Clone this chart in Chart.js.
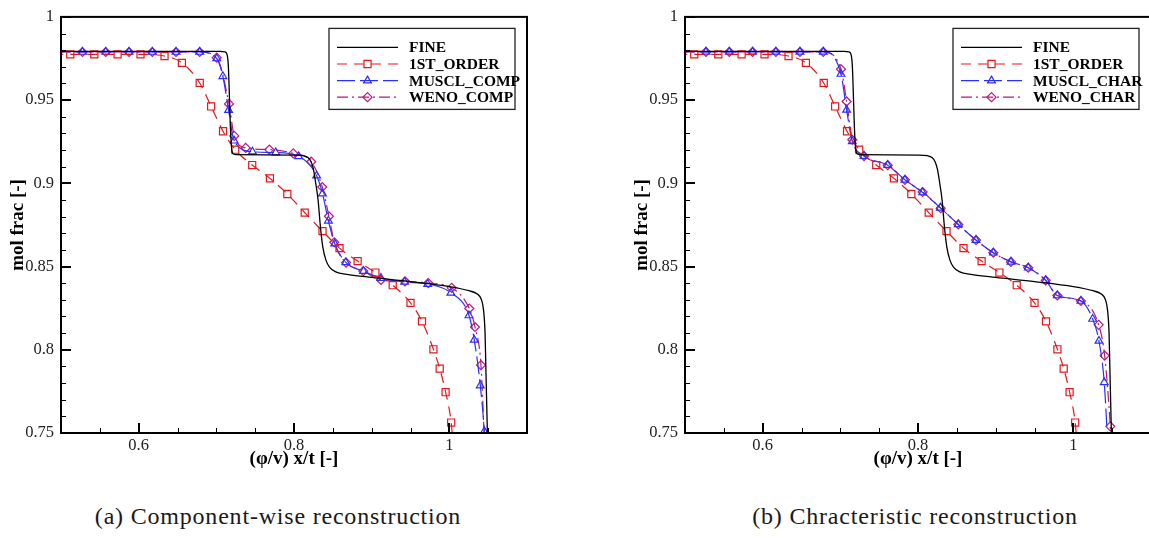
<!DOCTYPE html>
<html>
<head>
<meta charset="utf-8">
<script src="https://cdn.jsdelivr.net/npm/chart.js@4.4.1/dist/chart.umd.min.js"></script>
<style>
html, body { margin: 0; padding: 0; background: #fff; overflow: hidden; width: 1149px; height: 538px; }
.panel { position: absolute; top: 0; width: 575px; height: 490px; }
.cap { position: absolute; top: 503px; font-family: 'Liberation Serif', serif; font-size: 24px; letter-spacing: 0.8px;
       color: #1a1a1a; white-space: nowrap; transform: translateX(-50%); }
</style>
</head>
<body>
<div class="panel" style="left:0"><canvas id="chartA"></canvas></div>
<div class="panel" style="left:624px"><canvas id="chartB"></canvas></div>
<div class="cap" style="left:278px">(a) Component-wise reconstruction</div>
<div class="cap" style="left:915px">(b) Chracteristic reconstruction</div>
<script>
// axis ticks
const xTicks = [0.6, 0.8, 1];
const yTicks = [0.75, 0.8, 0.85, 0.9, 0.95, 1];

// reference solution (same in both panels)
const finePts = [
  [0.50, 0.9793], [0.705, 0.9793], [0.711, 0.979], [0.714, 0.977], [0.7155, 0.97], [0.717, 0.95],
  [0.718, 0.935], [0.7195, 0.922], [0.7215, 0.9178], [0.726, 0.9173], [0.80, 0.917], [0.812, 0.9166],
  [0.818, 0.9155], [0.822, 0.913], [0.825, 0.9085], [0.828, 0.90], [0.831, 0.89], [0.834, 0.874],
  [0.837, 0.862], [0.841, 0.854], [0.846, 0.8495], [0.853, 0.847], [0.87, 0.8452], [0.90, 0.8435],
  [0.95, 0.841], [1.00, 0.838], [1.025, 0.8355], [1.036, 0.8335], [1.041, 0.8305], [1.044, 0.824],
  [1.046, 0.81], [1.047, 0.79], [1.048, 0.77], [1.049, 0.75], [1.0495, 0.74]
];

// first order scheme (same in both panels)
const firstOrderPts = [
  [0.49, 0.9775], [0.5119, 0.9775], [0.5429, 0.9775], [0.5729, 0.9775], [0.6024, 0.9775], [0.6333, 0.9765],
  [0.6557, 0.9724], [0.6786, 0.9603], [0.6933, 0.9462], [0.7086, 0.9313], [0.7243, 0.9202], [0.7462, 0.911],
  [0.769, 0.903], [0.7914, 0.8936], [0.8138, 0.8824], [0.8367, 0.8713], [0.8586, 0.8611], [0.8819, 0.8533],
  [0.9048, 0.8464], [0.9271, 0.8388], [0.95, 0.8282], [0.9648, 0.8171], [0.9795, 0.8003], [0.9876, 0.7887],
  [0.9952, 0.7745], [1.0024, 0.7563], [1.005, 0.742]
];

// component-wise
const musclCompPts = [
  [0.49, 0.9789], [0.5276, 0.9789], [0.5576, 0.9789], [0.5876, 0.9789], [0.6176, 0.9789], [0.6481, 0.9789],
  [0.6786, 0.9789], [0.7005, 0.975], [0.7084, 0.9643], [0.7158, 0.944], [0.7229, 0.9256], [0.7465, 0.919],
  [0.7765, 0.9185], [0.806, 0.9162], [0.8291, 0.9046], [0.8367, 0.8938], [0.8443, 0.8775], [0.8524, 0.8638],
  [0.8667, 0.8525], [0.8895, 0.8472], [0.9119, 0.8431], [0.9424, 0.8408], [0.9722, 0.8395], [1.002, 0.8342],
  [1.0253, 0.8206], [1.0321, 0.8059], [1.0399, 0.7785], [1.045, 0.751], [1.046, 0.742]
];
const wenoCompPts = [
  [0.49, 0.9789], [0.5276, 0.9789], [0.5576, 0.9789], [0.5876, 0.9789], [0.6176, 0.9789], [0.6481, 0.9789],
  [0.6786, 0.9789], [0.7005, 0.9755], [0.7163, 0.9477], [0.7231, 0.9285], [0.7378, 0.9213], [0.7682, 0.9203],
  [0.7991, 0.918], [0.8222, 0.913], [0.8364, 0.8978], [0.845, 0.8802], [0.8519, 0.8646], [0.867, 0.8524],
  [0.8892, 0.8473], [0.912, 0.842], [0.9429, 0.8411], [0.9729, 0.8401], [1.003, 0.8372], [1.0257, 0.8248],
  [1.033, 0.8137], [1.0407, 0.7908], [1.0455, 0.742]
];

// characteristic
const musclCharPts = [
  [0.49, 0.979], [0.527, 0.979], [0.557, 0.979], [0.587, 0.979], [0.617, 0.979], [0.648, 0.979],
  [0.678, 0.979], [0.7008, 0.9657], [0.7081, 0.9441], [0.7154, 0.9252], [0.7305, 0.9164], [0.761, 0.9109],
  [0.7832, 0.9021], [0.806, 0.8945], [0.8288, 0.8853], [0.8519, 0.8753], [0.8747, 0.8659], [0.897, 0.8583],
  [0.9197, 0.8528], [0.942, 0.8493], [0.9644, 0.8417], [0.9794, 0.8326], [1.0098, 0.8293], [1.0249, 0.8185],
  [1.033, 0.8053], [1.0398, 0.7804], [1.0445, 0.742]
];
const wenoCharPts = [
  [0.49, 0.979], [0.527, 0.979], [0.557, 0.979], [0.587, 0.979], [0.617, 0.979], [0.648, 0.979],
  [0.678, 0.979], [0.7008, 0.9686], [0.7081, 0.9492], [0.7154, 0.9262], [0.7305, 0.9164], [0.761, 0.9109],
  [0.7832, 0.9021], [0.806, 0.8948], [0.8292, 0.8851], [0.8519, 0.8753], [0.8747, 0.8659], [0.897, 0.8583],
  [0.9197, 0.8528], [0.942, 0.8493], [0.9644, 0.8417], [0.9794, 0.8326], [1.0098, 0.8293], [1.0326, 0.815],
  [1.0403, 0.7965], [1.0476, 0.754], [1.049, 0.742]
];

const RED = 'rgb(228, 24, 28)';
const BLUE = 'rgb(45, 45, 255)';
const PURPLE = 'rgb(185, 25, 120)';
const SERIF = "'Liberation Serif', 'Times New Roman', serif";

function series(label, pts, color, dash, style, radius) {
  return {
    label: label,
    data: pts.map(p => ({ x: p[0], y: p[1] })),
    borderColor: color,
    borderWidth: 1.2,
    borderDash: dash,
    pointStyle: style,
    pointRadius: radius,
    pointHoverRadius: radius,
    pointBorderColor: color,
    pointBackgroundColor: 'rgba(0,0,0,0)',
    pointBorderWidth: 1.2,
    showLine: true,
    cubicInterpolationMode: 'monotone',
    fill: false
  };
}

// inward ticks, frame box and boxed legend
const framePlugin = {
  id: 'frame',
  afterDraw(chart) {
    const { ctx, chartArea: a, scales: { x, y } } = chart;
    ctx.save();
    ctx.strokeStyle = '#000';
    ctx.setLineDash([]);
    ctx.lineWidth = 1;
    ctx.beginPath();
    for (let i = 11; i <= 21; i++) {
      if (i % 4 === 0) continue;
      const px = Math.round(x.getPixelForValue(i * 0.05)) + 0.5;
      ctx.moveTo(px, a.bottom); ctx.lineTo(px, a.bottom - 5);
    }
    for (let i = 76; i <= 99; i++) {
      if (i % 5 === 0) continue;
      const py = Math.round(y.getPixelForValue(i / 100)) + 0.5;
      ctx.moveTo(a.left, py); ctx.lineTo(a.left + 5, py);
    }
    ctx.stroke();
    ctx.lineWidth = 2;
    ctx.beginPath();
    xTicks.forEach(v => {
      const px = Math.round(x.getPixelForValue(v));
      ctx.moveTo(px, a.bottom); ctx.lineTo(px, a.bottom - 10);
    });
    yTicks.forEach(v => {
      const py = Math.round(y.getPixelForValue(v));
      ctx.moveTo(a.left, py); ctx.lineTo(a.left + 10, py);
    });
    ctx.stroke();
    ctx.strokeRect(a.left, a.top, a.right - a.left, a.bottom - a.top);

    // legend
    const bx = a.left + 268, by = a.top + 11.5, bw = 186, bh = 81;
    ctx.fillStyle = '#fff';
    ctx.fillRect(bx, by, bw, bh);
    ctx.lineWidth = 1.3;
    ctx.strokeStyle = '#222';
    ctx.strokeRect(bx, by, bw, bh);
    ctx.font = 'bold 15.5px ' + SERIF;
    ctx.textBaseline = 'middle';
    chart.data.datasets.forEach((ds, i) => {
      const ry = by + 19 + i * 16.6;
      ctx.strokeStyle = ds.borderColor;
      ctx.lineWidth = ds.borderWidth;
      ctx.setLineDash(ds.borderDash || []);
      ctx.beginPath();
      ctx.moveTo(bx + 8, ry); ctx.lineTo(bx + 69, ry);
      ctx.stroke();
      ctx.setLineDash([]);
      if (ds.pointRadius > 0) {
        ctx.fillStyle = 'rgba(0,0,0,0)';
        Chart.helpers.drawPoint(ctx, { pointStyle: ds.pointStyle, radius: ds.pointRadius, borderWidth: 1.2, rotation: 0 }, bx + 38.5, ry);
      }
      ctx.fillStyle = '#000';
      ctx.fillText(ds.label, bx + 80, ry + 1);
    });
    ctx.restore();
  }
};

function makeChart(id, names, musclPts, wenoPts) {
  new Chart(document.getElementById(id), {
    type: 'scatter',
    data: {
      datasets: [
        Object.assign(series('FINE', finePts, '#000', [], 'circle', 0), { borderWidth: 1.3 }),
        series('1ST_ORDER', firstOrderPts, RED, [10, 7], 'rect', 5),
        series(names[0], musclPts, BLUE, [18, 5], 'triangle', 4.5),
        series(names[1], wenoPts, PURPLE, [11, 4, 2, 4], 'rectRot', 4.5)
      ]
    },
    options: {
      responsive: true,
      maintainAspectRatio: false,
      animation: false,
      layout: { padding: { top: 8, right: 48, bottom: 0, left: 0 } },
      plugins: { legend: { display: false }, tooltip: { enabled: false } },
      scales: {
        x: {
          type: 'linear', min: 0.5, max: 1.1,
          afterBuildTicks: s => { s.ticks = xTicks.map(v => ({ value: v })); },
          afterFit: s => { s.height = 57; },
          ticks: { callback: v => String(v), autoSkip: false, maxRotation: 0, padding: 3,
                   color: '#222', font: { family: SERIF, size: 16.5 } },
          grid: { display: false, drawTicks: false },
          border: { display: false },
          title: { display: true, text: '(φ/v) x/t [-]', color: '#000',
                   font: { family: SERIF, size: 19, weight: 'bold' }, padding: { top: 0, bottom: 20 } }
        },
        y: {
          type: 'linear', min: 0.75, max: 1,
          afterBuildTicks: s => { s.ticks = yTicks.map(v => ({ value: v })); },
          afterFit: s => { s.width = 61; },
          ticks: { callback: v => String(v), autoSkip: false, padding: 7,
                   color: '#222', font: { family: SERIF, size: 16.5 } },
          grid: { display: false, drawTicks: false },
          border: { display: false },
          title: { display: true, text: 'mol frac [-]', color: '#000',
                   font: { family: SERIF, size: 19, weight: 'bold' }, padding: { top: 7, bottom: 0 } }
        }
      }
    },
    plugins: [framePlugin]
  });
}

makeChart('chartA', ['MUSCL_COMP', 'WENO_COMP'], musclCompPts, wenoCompPts);
makeChart('chartB', ['MUSCL_CHAR', 'WENO_CHAR'], musclCharPts, wenoCharPts);
</script>
</body>
</html>
